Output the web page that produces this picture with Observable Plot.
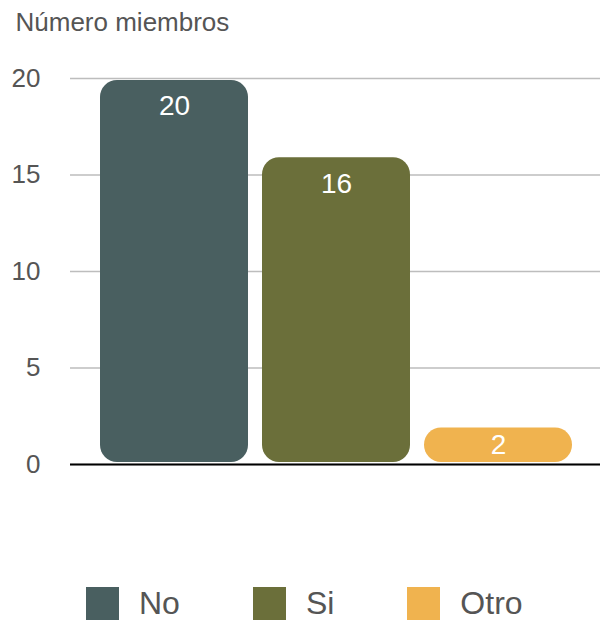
<!DOCTYPE html>
<html>
<head>
<meta charset="utf-8">
<script src="https://cdn.jsdelivr.net/npm/d3@7"></script>
<script src="https://cdn.jsdelivr.net/npm/@observablehq/plot@0.6"></script>
<style>
  html, body { margin: 0; padding: 0; background: #fff; }
  body { width: 600px; height: 620px; position: relative; overflow: hidden; font-family: "Liberation Sans", Arial, Helvetica, sans-serif; }
  #chart { position: absolute; left: 0; top: 0; }
  #legend { position: absolute; left: 86px; top: 587px; display: flex; align-items: center; height: 33px; }
  .item { display: flex; align-items: center; margin-right: 73px; }
  .item:last-child { margin-right: 0; }
  .sw { width: 33px; height: 33px; margin-right: 20px; }
  .lab { font-size: 32px; color: #555; line-height: 33px; }
</style>
</head>
<body>
<div id="chart"></div>
<div id="legend"></div>
<script>
const categories = ["No", "Si", "Otro"];
const values = [20, 16, 2];
const colors = ["#495f60", "#6b6f3a", "#f0b34f"];
const yTicks = [0, 5, 10, 15, 20];
const yTitle = "Número miembros";

const data = categories.map((c, i) => ({cat: c, value: values[i]}));

const chart = Plot.plot({
  width: 600,
  height: 580,
  marginLeft: 70,
  marginRight: 0,
  marginTop: 78,
  marginBottom: 116,
  style: {fontFamily: "Liberation Sans, Arial, Helvetica, sans-serif", background: "#fff"},
  x: {domain: categories, range: [99, 573], paddingInner: 0.086, paddingOuter: 0, axis: null},
  y: {domain: [0, 20], axis: null},
  color: {domain: categories, range: colors},
  marks: [
    Plot.gridY(yTicks, {stroke: "#bdbdbd", strokeOpacity: 1, strokeWidth: 1.5}),
    Plot.axisY(yTicks, {tickSize: 0, tickPadding: 30, fontSize: 26, fill: "#555", label: null}),
    Plot.barY(data, {x: "cat", y: "value", fill: "cat", rx: 17, ry: 17, insetTop: 2, insetBottom: 2}),
    Plot.ruleY([0], {stroke: "#000", strokeWidth: 2.2}),
    Plot.text(data.filter(d => d.value >= 5), {x: "cat", y: "value", text: d => String(d.value), fill: "#fff", fontSize: 28, dy: 28}),
    Plot.text(data.filter(d => d.value < 5), {x: "cat", y: d => d.value / 2, text: d => String(d.value), fill: "#fff", fontSize: 28}),
    Plot.text([yTitle], {frameAnchor: "top-left", text: d => d, dx: -55, dy: -56, textAnchor: "start", lineAnchor: "middle", fontSize: 26, fill: "#555"})
  ]
});
document.getElementById("chart").appendChild(chart);

const legend = d3.select("#legend");
categories.forEach((c, i) => {
  const it = legend.append("div").attr("class", "item");
  it.append("div").attr("class", "sw").style("background", colors[i]);
  it.append("div").attr("class", "lab").text(c);
});
</script>
</body>
</html>
